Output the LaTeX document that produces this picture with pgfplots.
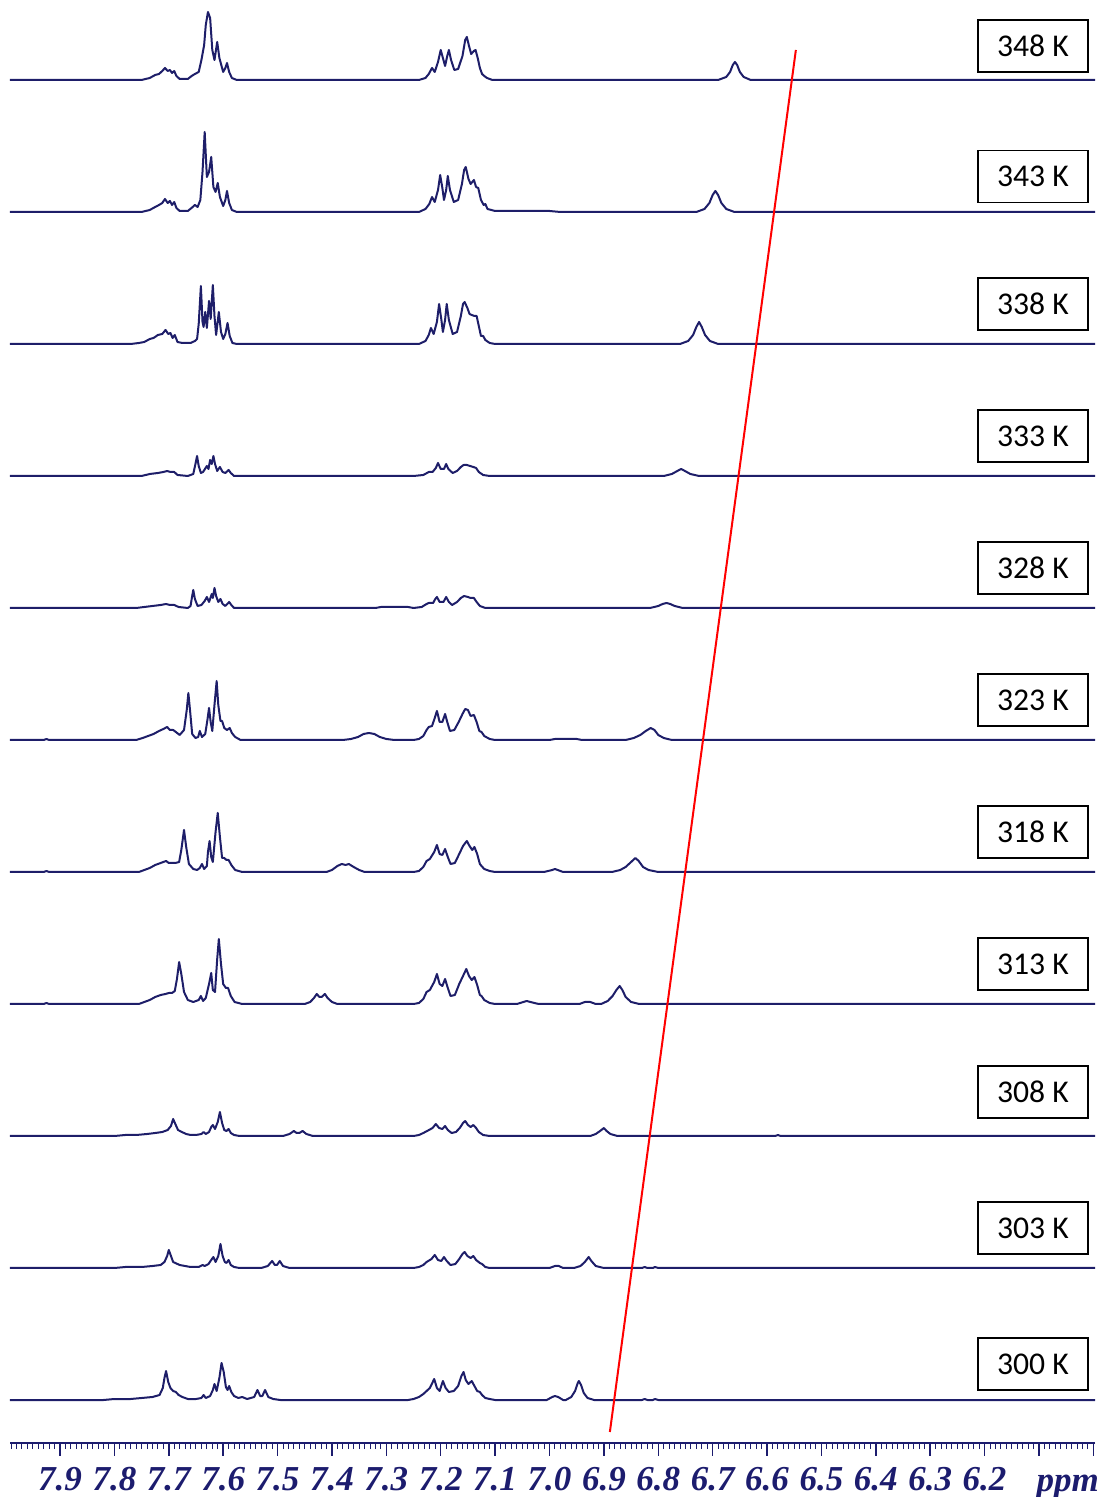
\documentclass[border=0pt]{standalone}
\usepackage{pgfplots}
\pgfplotsset{compat=1.18}
\usepackage{fontspec}
\newfontfamily\tickfont{Liberation Serif}
\newfontfamily\labfont{Carlito}
\definecolor{navy}{RGB}{28,28,110}
\definecolor{spec}{RGB}{30,30,105}
\begin{document}
\begin{tikzpicture}
\useasboundingbox (-3pt,-16.2pt) rectangle (326.4pt,432.9pt);
\begin{axis}[
  at={(0,0)}, anchor=south west,
  scale only axis, width=325.5pt, height=432.9pt,
  xmin=5.997, xmax=7.992, ymin=0, ymax=1443,
  x dir=reverse, clip=false,
  axis x line*=bottom, axis y line=none,
  x axis line style={draw=navy, line width=0.6pt},
  xtick={6.0,6.1,...,7.91},
  xticklabels={{},{},6.2,6.3,6.4,6.5,6.6,6.7,6.8,6.9,7.0,7.1,7.2,7.3,7.4,7.5,7.6,7.7,7.8,7.9},
  minor xtick={6.0,6.01,...,7.995},
  xtick align=outside,
  major tick length=3.8pt, minor tick length=1.8pt,
  major tick style={draw=navy, line width=0.45pt},
  minor tick style={draw=navy, line width=0.3pt},
  xticklabel style={font=\tickfont\bfseries\itshape\fontsize{10.5}{12}\selectfont, text=navy},
  off/.style={spec, line width=0.6pt, line join=round, y filter/.expression={y+#1}},
]
% 348 K
\addplot[off=1363] coordinates {(7.992,0)(7.75,0)(7.735,2)(7.725,5)(7.718,6)(7.712,9)(7.707,12)(7.702,9)(7.698,10)(7.694,7)(7.690,9)(7.686,4)(7.680,1)(7.665,1)(7.658,4)(7.652,6)(7.645,8)(7.640,20)(7.635,35)(7.632,55)(7.628,68)(7.624,62)(7.620,30)(7.616,20)(7.611,38)(7.607,22)(7.600,8)(7.596,12)(7.593,17)(7.589,8)(7.584,2)(7.575,0)(7.24,0)(7.228,2)(7.222,6)(7.216,12)(7.211,8)(7.205,18)(7.200,30)(7.196,22)(7.192,14)(7.188,24)(7.185,30)(7.181,20)(7.175,10)(7.168,11)(7.160,24)(7.155,40)(7.152,43)(7.148,34)(7.144,26)(7.139,29)(7.136,30)(7.132,22)(7.128,12)(7.124,6)(7.120,4)(7.115,2)(7.105,0)(6.69,0)(6.675,3)(6.668,8)(6.663,15)(6.659,18)(6.655,15)(6.650,8)(6.643,3)(6.63,0)(5.997,0)};
% 343 K
\addplot[off=1231] coordinates {(7.992,0)(7.75,0)(7.735,2)(7.725,5)(7.718,7)(7.712,9)(7.707,13)(7.702,9)(7.698,11)(7.694,7)(7.690,10)(7.686,4)(7.680,1)(7.665,1)(7.656,5)(7.652,7)(7.647,5)(7.642,12)(7.638,40)(7.634,80)(7.630,35)(7.626,40)(7.622,55)(7.618,25)(7.614,20)(7.610,29)(7.606,15)(7.600,6)(7.596,12)(7.593,21)(7.589,9)(7.584,2)(7.575,0)(7.24,0)(7.228,3)(7.221,8)(7.216,15)(7.211,10)(7.205,22)(7.201,37)(7.197,24)(7.194,12)(7.190,22)(7.187,36)(7.183,22)(7.176,10)(7.168,12)(7.161,28)(7.157,42)(7.154,45)(7.149,33)(7.145,28)(7.139,32)(7.135,25)(7.131,24)(7.126,12)(7.121,7)(7.118,8)(7.114,3)(7.10,1)(7.00,1)(6.98,0)(6.73,0)(6.715,3)(6.706,9)(6.700,17)(6.695,21)(6.690,17)(6.684,9)(6.675,3)(6.66,0)(5.997,0)};
% 338 K
\addplot[off=1099] coordinates {(7.992,0)(7.77,0)(7.755,1)(7.745,2)(7.735,5)(7.728,6)(7.720,9)(7.712,10)(7.706,14)(7.701,10)(7.697,11)(7.693,6)(7.689,9)(7.684,2)(7.675,1)(7.660,1)(7.652,3)(7.648,5)(7.645,20)(7.641,58)(7.638,22)(7.636,17)(7.633,32)(7.630,16)(7.626,43)(7.623,25)(7.619,59)(7.616,28)(7.613,9)(7.608,32)(7.604,12)(7.600,5)(7.596,10)(7.592,21)(7.588,8)(7.583,1)(7.575,0)(7.24,0)(7.228,3)(7.222,9)(7.218,16)(7.213,10)(7.207,22)(7.203,40)(7.199,25)(7.196,12)(7.192,24)(7.189,40)(7.185,24)(7.178,10)(7.170,12)(7.163,28)(7.159,40)(7.156,42)(7.151,36)(7.147,30)(7.143,29)(7.138,28)(7.134,28)(7.130,18)(7.126,8)(7.122,8)(7.118,4)(7.110,1)(7.10,0)(6.76,0)(6.745,3)(6.736,9)(6.730,17)(6.725,22)(6.720,17)(6.714,9)(6.705,3)(6.69,0)(5.997,0)};
% 333 K
\addplot[off=967] coordinates {(7.992,0)(7.75,0)(7.735,2)(7.72,3)(7.71,4)(7.703,5)(7.697,4)(7.690,4)(7.684,1)(7.665,0)(7.655,2)(7.651,12)(7.648,20)(7.645,10)(7.641,3)(7.637,4)(7.630,10)(7.627,7)(7.624,16)(7.621,12)(7.618,20)(7.615,12)(7.611,5)(7.606,9)(7.601,4)(7.596,3)(7.590,6)(7.586,3)(7.580,0)(7.25,0)(7.232,1)(7.222,4)(7.215,4)(7.209,8)(7.205,13)(7.200,7)(7.194,7)(7.190,12)(7.186,7)(7.178,3)(7.170,5)(7.163,9)(7.158,11)(7.152,11)(7.146,10)(7.140,9)(7.135,8)(7.130,4)(7.122,1)(7.11,0)(6.79,0)(6.775,2)(6.765,5)(6.758,7)(6.751,5)(6.741,2)(6.725,0)(5.997,0)};
% 328 K
\addplot[off=835] coordinates {(7.992,0)(7.76,0)(7.745,1)(7.73,2)(7.715,3)(7.705,4)(7.698,3)(7.690,3)(7.682,1)(7.665,0)(7.660,2)(7.657,12)(7.655,18)(7.652,9)(7.647,2)(7.640,3)(7.634,7)(7.630,11)(7.626,6)(7.621,14)(7.619,10)(7.616,20)(7.613,12)(7.609,6)(7.605,9)(7.601,4)(7.596,2)(7.589,6)(7.585,3)(7.580,0)(7.32,0)(7.31,1)(7.26,1)(7.25,0)(7.235,1)(7.226,4)(7.222,5)(7.214,5)(7.210,9)(7.207,11)(7.202,6)(7.195,6)(7.190,11)(7.185,6)(7.179,3)(7.170,6)(7.163,10)(7.157,12)(7.150,11)(7.145,10)(7.139,10)(7.134,6)(7.128,2)(7.118,0)(6.815,0)(6.800,2)(6.792,4)(6.785,5)(6.778,4)(6.770,2)(6.755,0)(5.997,0)};
% 323 K
\addplot[off=703] coordinates {(7.992,0)(7.93,0)(7.925,1)(7.92,0)(7.76,0)(7.748,2)(7.738,4)(7.728,6)(7.718,9)(7.710,11)(7.703,13)(7.698,10)(7.692,10)(7.687,8)(7.680,5)(7.672,10)(7.667,30)(7.664,47)(7.661,30)(7.657,6)(7.651,2)(7.646,3)(7.643,9)(7.639,3)(7.633,6)(7.629,20)(7.626,32)(7.623,18)(7.620,9)(7.616,35)(7.612,59)(7.609,35)(7.605,19)(7.602,19)(7.598,12)(7.593,10)(7.588,12)(7.584,7)(7.578,3)(7.568,0)(7.38,0)(7.365,1)(7.352,3)(7.342,6)(7.332,7)(7.322,6)(7.312,3)(7.300,1)(7.285,0)(7.25,0)(7.240,1)(7.232,4)(7.226,10)(7.222,13)(7.216,14)(7.211,22)(7.207,29)(7.202,18)(7.197,18)(7.192,26)(7.188,18)(7.183,9)(7.175,10)(7.167,18)(7.160,26)(7.155,31)(7.150,30)(7.145,24)(7.139,25)(7.134,18)(7.129,9)(7.125,8)(7.120,4)(7.110,1)(7.10,0)(7.00,0)(6.99,1)(6.95,1)(6.94,0)(6.86,0)(6.845,2)(6.833,5)(6.823,9)(6.814,12)(6.807,10)(6.800,5)(6.790,2)(6.775,0)(5.997,0)};
% 318 K
\addplot[off=571] coordinates {(7.992,0)(7.93,0)(7.925,1)(7.92,0)(7.755,0)(7.745,2)(7.735,4)(7.725,7)(7.715,9)(7.705,11)(7.700,9)(7.694,9)(7.688,9)(7.681,10)(7.677,22)(7.672,42)(7.668,25)(7.663,8)(7.655,3)(7.648,2)(7.643,4)(7.639,8)(7.635,3)(7.630,6)(7.628,20)(7.625,31)(7.622,15)(7.619,10)(7.614,40)(7.610,59)(7.606,35)(7.602,14)(7.598,14)(7.594,12)(7.590,12)(7.585,7)(7.578,2)(7.565,0)(7.41,0)(7.400,2)(7.390,6)(7.382,8)(7.375,7)(7.369,8)(7.360,5)(7.350,2)(7.340,0)(7.25,0)(7.240,1)(7.232,5)(7.226,11)(7.220,13)(7.212,20)(7.207,27)(7.202,18)(7.197,17)(7.192,23)(7.187,15)(7.182,8)(7.174,9)(7.166,18)(7.159,26)(7.152,31)(7.147,26)(7.142,22)(7.138,25)(7.133,18)(7.128,8)(7.125,6)(7.120,3)(7.110,1)(7.10,0)(7.01,0)(6.995,2)(6.99,3)(6.985,2)(6.975,0)(6.885,0)(6.870,2)(6.860,5)(6.850,10)(6.842,14)(6.836,11)(6.828,5)(6.818,2)(6.800,0)(5.997,0)};
% 313 K
\addplot[off=439] coordinates {(7.992,0)(7.93,0)(7.925,1)(7.92,0)(7.755,0)(7.745,2)(7.735,4)(7.725,7)(7.715,9)(7.706,10)(7.700,11)(7.694,11)(7.689,13)(7.685,25)(7.681,42)(7.677,30)(7.672,12)(7.665,4)(7.655,2)(7.645,4)(7.641,8)(7.637,3)(7.632,6)(7.626,20)(7.622,31)(7.619,14)(7.615,12)(7.611,45)(7.608,65)(7.604,40)(7.600,20)(7.595,16)(7.591,16)(7.586,8)(7.579,2)(7.565,0)(7.45,0)(7.440,2)(7.433,6)(7.428,10)(7.423,7)(7.419,7)(7.413,10)(7.408,6)(7.400,2)(7.390,0)(7.25,0)(7.240,1)(7.232,5)(7.226,12)(7.220,14)(7.212,22)(7.207,30)(7.202,20)(7.197,18)(7.192,25)(7.187,16)(7.182,8)(7.174,9)(7.166,20)(7.159,28)(7.153,35)(7.148,28)(7.143,24)(7.138,27)(7.133,19)(7.128,9)(7.125,8)(7.120,4)(7.110,1)(7.10,0)(7.06,0)(7.048,2)(7.042,3)(7.035,2)(7.02,0)(6.945,0)(6.935,2)(6.925,2)(6.915,0)(6.905,0)(6.893,3)(6.884,8)(6.877,14)(6.871,18)(6.866,14)(6.860,7)(6.850,2)(6.835,0)(5.997,0)};
% 308 K
\addplot[off=307] coordinates {(7.992,0)(7.80,0)(7.78,1)(7.76,1)(7.74,2)(7.725,3)(7.712,4)(7.702,6)(7.696,10)(7.692,17)(7.688,12)(7.683,6)(7.676,4)(7.668,2)(7.660,1)(7.650,1)(7.640,2)(7.636,4)(7.632,2)(7.626,4)(7.622,9)(7.619,11)(7.615,7)(7.610,14)(7.606,24)(7.602,13)(7.598,6)(7.594,5)(7.590,7)(7.586,3)(7.580,1)(7.570,0)(7.49,0)(7.478,2)(7.470,5)(7.465,3)(7.460,3)(7.454,5)(7.447,2)(7.435,0)(7.25,0)(7.240,1)(7.232,3)(7.225,5)(7.215,8)(7.209,12)(7.203,8)(7.197,7)(7.192,10)(7.187,6)(7.180,3)(7.172,4)(7.165,8)(7.159,13)(7.155,15)(7.150,11)(7.145,9)(7.140,11)(7.135,8)(7.130,4)(7.122,1)(7.11,0)(6.925,0)(6.915,2)(6.907,5)(6.900,8)(6.895,5)(6.888,2)(6.875,0)(6.585,0)(6.58,1)(6.575,0)(5.997,0)};
% 303 K
\addplot[off=175] coordinates {(7.992,0)(7.80,0)(7.78,1)(7.75,1)(7.73,2)(7.715,3)(7.708,6)(7.703,12)(7.700,18)(7.696,12)(7.692,6)(7.688,5)(7.680,3)(7.670,2)(7.660,1)(7.645,1)(7.638,3)(7.634,2)(7.627,4)(7.622,8)(7.618,11)(7.614,6)(7.609,12)(7.605,24)(7.601,12)(7.597,6)(7.594,5)(7.590,8)(7.586,3)(7.580,1)(7.570,0)(7.53,0)(7.518,2)(7.510,7)(7.505,3)(7.501,3)(7.496,7)(7.490,2)(7.478,0)(7.25,0)(7.240,1)(7.232,3)(7.226,6)(7.217,9)(7.211,13)(7.205,8)(7.199,7)(7.194,11)(7.189,7)(7.182,3)(7.173,4)(7.166,9)(7.160,14)(7.156,16)(7.151,12)(7.145,10)(7.140,12)(7.135,8)(7.128,5)(7.124,4)(7.118,1)(7.11,0)(7.00,0)(6.990,2)(6.983,2)(6.975,0)(6.955,0)(6.943,2)(6.935,6)(6.928,11)(6.923,7)(6.915,2)(6.900,0)(6.83,0)(6.825,1)(6.82,0)(6.81,0)(6.806,1)(6.80,0)(5.997,0)};
% 300 K
\addplot[off=43] coordinates {(7.992,0)(7.82,0)(7.80,1)(7.77,1)(7.75,2)(7.730,3)(7.717,5)(7.711,12)(7.708,22)(7.705,29)(7.701,18)(7.697,12)(7.692,9)(7.687,8)(7.682,5)(7.675,3)(7.665,1)(7.650,1)(7.640,2)(7.636,5)(7.632,2)(7.624,4)(7.619,10)(7.616,16)(7.612,9)(7.607,22)(7.603,37)(7.599,28)(7.595,13)(7.592,10)(7.589,14)(7.585,8)(7.580,4)(7.572,2)(7.565,3)(7.556,1)(7.543,3)(7.537,10)(7.532,4)(7.528,4)(7.523,10)(7.517,3)(7.508,1)(7.495,0)(7.26,0)(7.250,1)(7.240,3)(7.232,6)(7.228,8)(7.220,12)(7.212,21)(7.207,12)(7.202,9)(7.196,19)(7.191,12)(7.185,8)(7.176,9)(7.168,14)(7.162,24)(7.158,28)(7.154,20)(7.149,16)(7.143,19)(7.138,14)(7.133,9)(7.128,8)(7.124,5)(7.118,2)(7.11,1)(7.10,0)(7.005,0)(6.995,3)(6.990,4)(6.984,3)(6.975,0)(6.970,0)(6.960,3)(6.953,9)(6.948,17)(6.946,19)(6.942,15)(6.937,7)(6.930,2)(6.918,0)(6.83,0)(6.825,1)(6.82,0)(6.81,0)(6.806,1)(6.80,0)(5.997,0)};
% red guide line
\addplot[red, line width=0.6pt] coordinates {(6.547,1393) (6.889,11)};
% labels
\foreach \t/\yy in {348/1397,343/1266.5,338/1139,333/1007,328/875,323/743,318/611,313/479,308/351,303/215,300/79}{
  \edef\tmp{\noexpand\node[draw=black, line width=0.4pt, fill=white, minimum width=33pt, minimum height=15.6pt, inner sep=0pt, font=\noexpand\labfont\noexpand\fontsize{9.5}{11}\noexpand\selectfont] at (axis cs:6.111,\yy) {\t\noexpand~K};}
  \tmp
}
\node[anchor=base, yshift=-14.6pt, font=\tickfont\bfseries\itshape\fontsize{10.5}{12}\selectfont, text=navy] at (axis cs:6.047,0) {ppm};
\end{axis}
\end{tikzpicture}
\end{document}
